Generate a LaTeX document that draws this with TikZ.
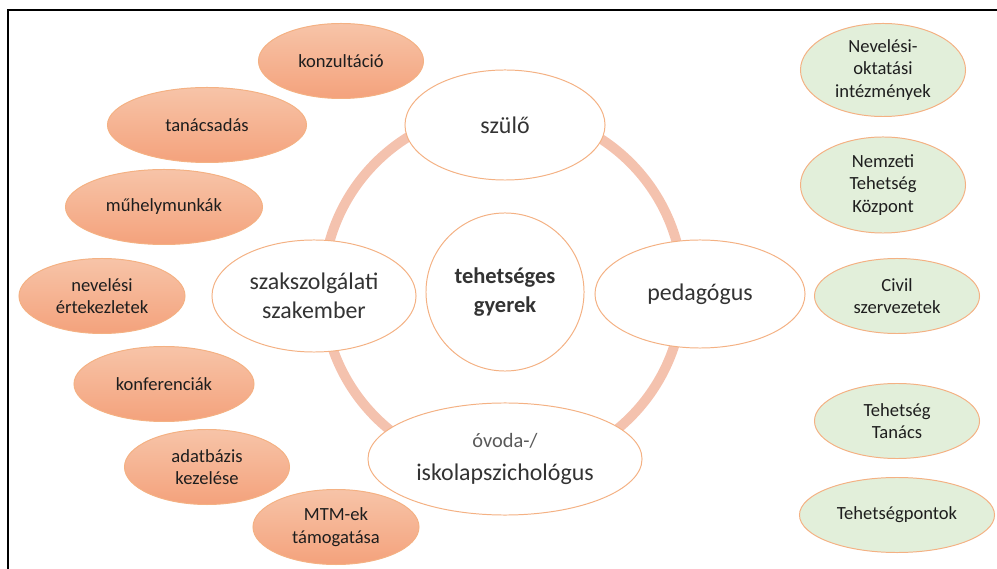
\documentclass[tikz,border=0pt]{standalone}
\usepackage{fontspec}
\setmainfont{Carlito}
\usetikzlibrary{shapes.geometric,backgrounds}
\definecolor{ringc}{HTML}{F4C2AE}
\definecolor{edgec}{HTML}{F4B183}
\definecolor{orangetop}{HTML}{F7C4A8}
\definecolor{orangebot}{HTML}{F4A27C}
\definecolor{greenc}{HTML}{E2EFDA}
\definecolor{txt}{HTML}{333333}
\definecolor{txtdark}{HTML}{1E1E1E}
\definecolor{txtlight}{HTML}{595959}

\begin{document}
\begin{tikzpicture}[x=0.025cm,y=-0.025cm,
    role/.style={fill=white,font=\fontsize{17}{21}\selectfont},
    task/.style={top color=orangetop,bottom color=orangebot,minimum width=4.125cm,minimum height=1.875cm},
    org/.style={fill=greenc,minimum width=4.125cm,minimum height=1.875cm}]
\useasboundingbox (0,0) rectangle (997,569);
\draw[line width=1.4pt] (8,569) -- (8,10) -- (997,10);

\begin{scope}[every node/.style={ellipse,draw=edgec,line width=0.7pt,inner sep=0pt,align=center,text=txt}]
    \node[role,minimum width=5cm,minimum height=2.75cm] (szulo) at (505,125) {szülő};
    \node[role,minimum width=5.25cm,minimum height=2.7cm] (pedagogus) at (700,294) {pedagógus};
    \node[role,minimum width=5.1cm,minimum height=2.8cm] (szakember) at (314,296) {szakszolgálati\\szakember};
    \node[role,minimum width=6.85cm,minimum height=2.8cm] (pszicho) at (505,459)
        {{\color{txtlight}\fontsize{14.5}{18}\selectfont óvoda-/}\\[3pt]iskolapszichológus};
    \node[role,circle,minimum size=3.95cm,font=\bfseries\fontsize{16}{20}\selectfont] (gyerek) at (505,292) {tehetséges\\gyerek};
\end{scope}

\begin{scope}[on background layer]
    \draw[ringc,line width=7pt] (503,290) circle [radius=4.5cm];
\end{scope}

\begin{scope}[every node/.style={ellipse,draw=edgec,line width=0.7pt,inner sep=0pt,align=center,text=txtdark,
                                 font=\fontsize{13.2}{16}\selectfont}]
    \node[task] (konzultacio) at (341,61) {konzultáció};
    \node[task,minimum width=4.975cm] (tanacsadas) at (207,125) {tanácsadás};
    \node[task,minimum width=4.925cm] (muhely) at (164,207) {műhelymunkák};
    \node[task,minimum width=4.15cm] (ertekezlet) at (102,296) {nevelési\\értekezletek};
    \node[task,minimum width=4.5cm] (konferencia) at (164,384) {konferenciák};
    \node[task] (adatbazis) at (207,467) {adatbázis\\kezelése};
    \node[task,minimum width=4.15cm] (mtm) at (336,527) {MTM-ek\\támogatása};

    \node[org,minimum height=2.325cm] (intezmeny) at (883,70) {Nevelési-\\oktatási\\intézmények};
    \node[org,minimum height=2.4cm] (kozpont) at (883,185) {Nemzeti\\Tehetség\\Központ};
    \node[org] (civil) at (897,296) {Civil\\szervezetek};
    \node[org] (tanacs) at (897,421) {Tehetség\\Tanács};
    \node[org,minimum width=4.875cm] (pontok) at (897,515) {Tehetségpontok};
\end{scope}
\end{tikzpicture}
\end{document}
